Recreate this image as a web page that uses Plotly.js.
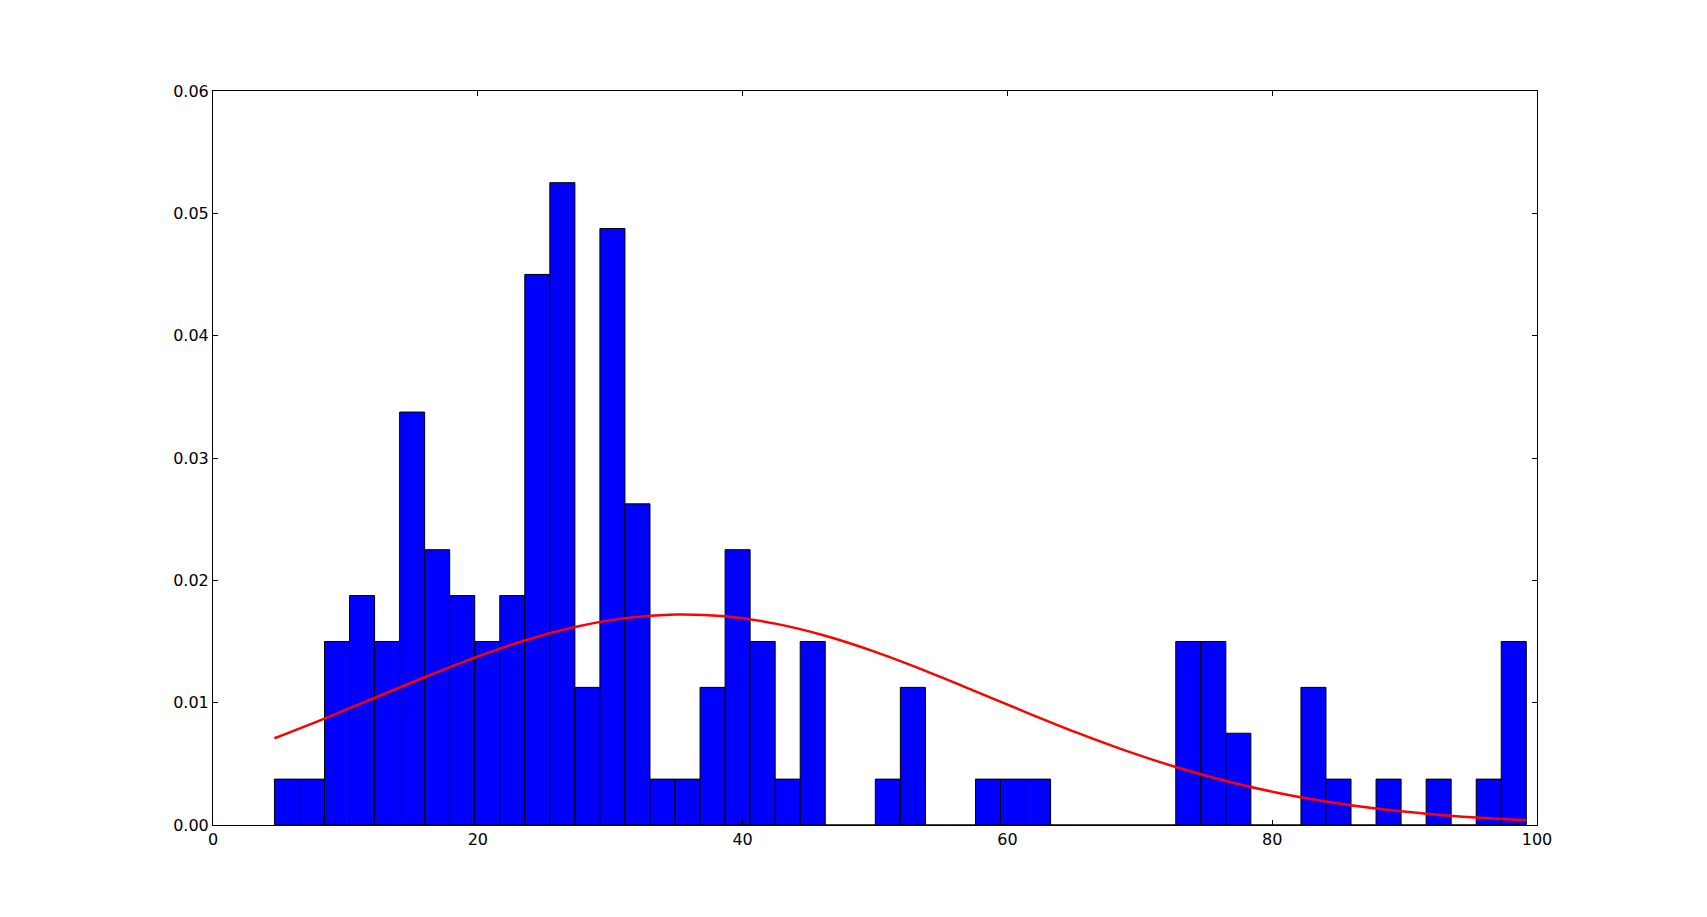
<!DOCTYPE html>
<html>
<head>
<meta charset="utf-8">
<script src="https://cdn.plot.ly/plotly-3.0.1.min.js"></script>
<style>html,body{margin:0;padding:0;background:#fff;}#chart{width:1707px;height:917px;}</style>
</head>
<body>
<div id="chart"></div>
<script>
// Histogram: 50 bins starting at binStart, each binWidth wide
const binStart = 4.64;
const binWidth = 1.891;
const binCounts = [1,1,4,5,4,9,6,5,4,5,
                   12,14,3,13,7,1,1,3,6,4,
                   1,4,0,0,1,3,0,0,1,1,
                   1,0,0,0,0,0,4,4,2,0,
                   0,3,1,0,1,0,1,0,1,4];
// Fitted curve
const curveX = [4.64,8.42,12.20,15.99,19.77,23.55,27.33,31.11,34.90,38.68,
                42.46,46.24,50.02,53.81,57.59,61.37,65.15,68.93,72.72,76.50,
                80.28,84.06,87.84,91.63,95.41,99.19];
const curveY = [0.00709,0.00870,0.01039,0.01208,0.01368,0.01508,0.01618,0.01691,0.01721,0.01706,
                0.01646,0.01547,0.01415,0.01260,0.01093,0.00923,0.00759,0.00608,0.00474,0.00360,
                0.00266,0.00192,0.00134,0.00092,0.00061,0.00039];
const xTicks = [0,20,40,60,80,100];
const yTicks = [0.00,0.01,0.02,0.03,0.04,0.05,0.06];

const total = binCounts.reduce((a,b)=>a+b,0);
const centers = binCounts.map((c,i)=>binStart + binWidth*(i+0.5));
const density = binCounts.map(c=>c/(total*binWidth));

const traces = [
  {type:'bar', x:centers, y:density, width:binWidth,
   marker:{color:'#0000ff', line:{color:'#000000', width:1}},
   hoverinfo:'x+y', showlegend:false},
  {type:'scatter', mode:'lines', x:curveX, y:curveY,
   line:{color:'#ff0000', width:2.5, shape:'spline'}, showlegend:false}
];

const axisCommon = {
  showgrid:false, zeroline:false, showline:true, linecolor:'#000', linewidth:1,
  mirror:'ticks', ticks:'inside', ticklen:5, tickcolor:'#000', tickwidth:1,
  tickfont:{family:'DejaVu Sans', size:16, color:'#000'}
};

const layout = {
  width:1707, height:917,
  margin:{l:213, r:170, t:91, b:92},
  paper_bgcolor:'#fff', plot_bgcolor:'#fff',
  bargap:0,
  xaxis:Object.assign({}, axisCommon, {range:[0,100], tickvals:xTicks, ticktext:xTicks.map(String)}),
  yaxis:Object.assign({}, axisCommon, {range:[0,0.06], tickvals:yTicks, ticktext:yTicks.map(v=>v.toFixed(2))}),
  showlegend:false
};

Plotly.newPlot('chart', traces, layout, {displayModeBar:false, staticPlot:true});
</script>
</body>
</html>
